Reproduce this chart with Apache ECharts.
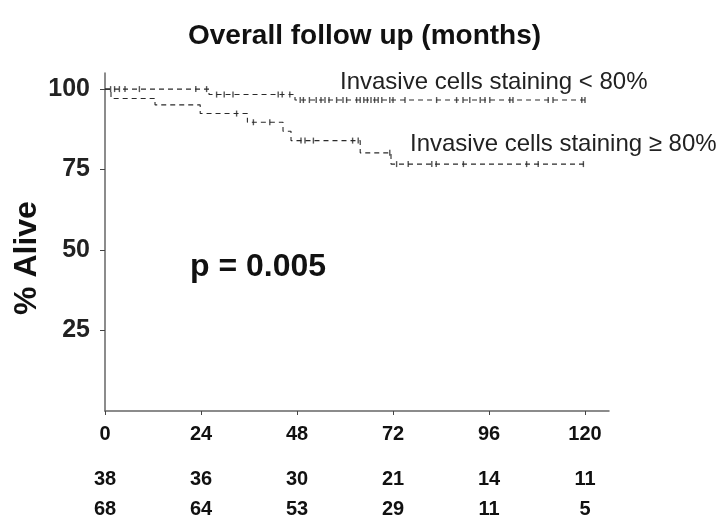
<!DOCTYPE html>
<html>
<head>
<meta charset="utf-8">
<script src="https://cdn.jsdelivr.net/npm/echarts@6/dist/echarts.min.js"></script>
<style>
  html, body { margin: 0; padding: 0; background: #fff; }
  #main { width: 717px; height: 519px; }
</style>
</head>
<body>
<div id="main"></div>
<script>
// axis ticks and numbers at risk
var monthTicks = [0, 24, 48, 72, 96, 120]
var atRiskLow = [38, 36, 30, 21, 14, 11]
var atRiskHigh = [68, 64, 53, 29, 11, 5]
var pctTicks = [25, 50, 75, 100]

// Kaplan-Meier steps [month, % alive]
var lowSteps = [[0, 100], [26, 98.3], [47.5, 96.6], [120, 96.6]]
var highSteps = [[0, 100], [1.5, 97.1], [12.5, 95.1], [23.8, 92.4], [35.6, 89.7],
  [44.5, 86.9], [46.5, 84.0], [63.8, 80.2], [71.5, 76.7], [120, 76.7]]

// censored patients (months)
var lowCensored = [1.4, 2.4, 3.6, 5, 8.6, 22.7, 25.4, 27.9, 29.8, 32, 43.3, 44.3, 46.2,
  48.8, 49.6, 51.1, 52.8, 54, 55, 56, 57.9, 59.5, 60.4, 62.9, 63.8, 64.7, 65.6, 66.5,
  67.4, 68.3, 69.2, 71.2, 72, 75, 82.9, 87.9, 89.5, 91.2, 93.8, 95, 96.2, 101.2, 102,
  110.8, 112, 119.2, 120]
var highCensored = [32.9, 37.1, 41.2, 49, 50, 52.1, 61.9, 63.3, 71.2, 72.9, 75.8, 81.7,
  82.8, 89.6, 105.4, 108.3, 119.6]

var lowLabel = 'Invasive cells staining < 80%'
var highLabel = 'Invasive cells staining ≥ 80%'

function levelAt(steps, t) {
  var v = steps[0][1]
  for (var i = 0; i < steps.length; i++) {
    if (steps[i][0] <= t) v = steps[i][1]
  }
  return v
}

var sans = "'Liberation Sans', Arial, sans-serif"
var lineColor = '#2a2a2a'

var chart = echarts.init(document.getElementById('main'))
var option = {
  animation: false,
  title: [
    { text: 'Overall follow up (months)', left: 183, top: 17,
      textStyle: { fontFamily: sans, fontSize: 28, fontWeight: 'bold', color: '#111' } },
    { text: 'p = 0.005', left: 185, top: 246,
      textStyle: { fontFamily: sans, fontSize: 32, fontWeight: 'bold', color: '#111' } },
    { text: lowLabel, left: 335, top: 65,
      textStyle: { fontFamily: sans, fontSize: 24, fontWeight: 'normal', color: '#222' } },
    { text: highLabel, left: 405, top: 127,
      textStyle: { fontFamily: sans, fontSize: 24, fontWeight: 'normal', color: '#222' } }
  ],
  graphic: [
    { type: 'text', x: 27, y: 258, rotation: Math.PI / 2,
      style: { text: '% Alive', align: 'center', verticalAlign: 'middle',
        font: 'bold 32px ' + sans, fill: '#111' } }
  ],
  grid: { left: 105, right: 108, top: 73, bottom: 100 },
  xAxis: {
    type: 'value', min: 0, max: 126,
    splitLine: { show: false },
    axisLine: { lineStyle: { color: '#666', width: 1.5 } },
    axisTick: { customValues: monthTicks, length: 4, lineStyle: { color: '#444' } },
    axisLabel: {
      customValues: monthTicks, margin: 8,
      formatter: function (v) {
        var i = monthTicks.indexOf(v)
        return '{t|' + v + '}\n{g| }\n{r|' + atRiskLow[i] + '}\n{r|' + atRiskHigh[i] + '}'
      },
      rich: {
        t: { fontFamily: sans, fontSize: 20, fontWeight: 'bold', color: '#111', lineHeight: 30 },
        g: { fontSize: 8, lineHeight: 15 },
        r: { fontFamily: sans, fontSize: 20, fontWeight: 'bold', color: '#111', lineHeight: 30 }
      }
    }
  },
  yAxis: {
    type: 'value', min: 0, max: 105,
    splitLine: { show: false },
    axisLine: { show: true, lineStyle: { color: '#666', width: 1.5 } },
    axisTick: { show: true, customValues: pctTicks, length: 5, lineStyle: { color: '#444' } },
    axisLabel: { customValues: pctTicks, margin: 15, fontFamily: sans, fontSize: 25,
      fontWeight: 'bold', color: '#222' }
  },
  series: [
    { type: 'line', step: 'end', data: lowSteps, symbol: 'none',
      lineStyle: { type: [5, 4], width: 1.1, color: lineColor } },
    { type: 'line', step: 'end', data: highSteps, symbol: 'none',
      lineStyle: { type: [5, 4], width: 1.1, color: lineColor } },
    { type: 'scatter', symbol: 'rect', symbolSize: [1.4, 6],
      data: lowCensored.map(function (t) { return [t, levelAt(lowSteps, t)] }),
      itemStyle: { color: lineColor } },
    { type: 'scatter', symbol: 'rect', symbolSize: [1.4, 6],
      data: highCensored.map(function (t) { return [t, levelAt(highSteps, t)] }),
      itemStyle: { color: lineColor } }
  ]
}
option && chart.setOption(option)
</script>
</body>
</html>
